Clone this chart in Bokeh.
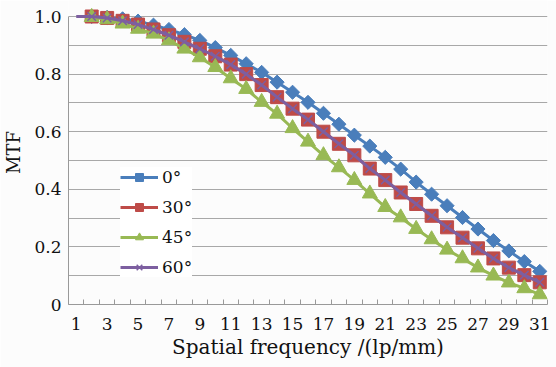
from bokeh.plotting import figure
from bokeh.embed import file_html
from bokeh.resources import INLINE
from bokeh.models import FixedTicker, Range1d

# data
cats = list(range(2, 32))
cats60 = list(range(1, 32))
mtf_0 = [1.0, 0.997, 0.992, 0.984, 0.970, 0.955, 0.937, 0.917, 0.892, 0.865,
         0.836, 0.806, 0.772, 0.737, 0.702, 0.664, 0.626, 0.588, 0.550, 0.511,
         0.470, 0.425, 0.383, 0.343, 0.302, 0.262, 0.222, 0.186, 0.149, 0.115]
mtf_30 = [1.0, 0.995, 0.985, 0.972, 0.955, 0.935, 0.912, 0.888, 0.862, 0.833,
          0.800, 0.762, 0.720, 0.680, 0.642, 0.600, 0.558, 0.518, 0.472, 0.432,
          0.389, 0.349, 0.308, 0.268, 0.232, 0.195, 0.160, 0.128, 0.102, 0.077]
mtf_45 = [0.998, 0.990, 0.975, 0.957, 0.940, 0.917, 0.888, 0.858, 0.824, 0.785,
          0.748, 0.703, 0.662, 0.612, 0.565, 0.518, 0.476, 0.432, 0.385, 0.338,
          0.302, 0.262, 0.226, 0.190, 0.160, 0.128, 0.100, 0.076, 0.056, 0.035]
mtf_60 = [1.0, 1.0, 0.995, 0.985, 0.972, 0.955, 0.935, 0.912, 0.888, 0.862, 0.833,
          0.800, 0.762, 0.720, 0.680, 0.642, 0.600, 0.558, 0.518, 0.472, 0.432,
          0.389, 0.349, 0.308, 0.268, 0.232, 0.195, 0.160, 0.128, 0.102, 0.077]
x_tick_labels = [str(i) for i in range(1, 32, 2)]
y_ticks = [0, 0.2, 0.4, 0.6, 0.8, 1.0]
y_tick_labels = ["0", "0.2", "0.4", "0.6", "0.8", "1.0"]

FONT = "DejaVu Serif"
TXT = "#111111"

p = figure(width=556, height=367, output_backend="svg", toolbar_location=None,
           x_range=Range1d(0.5, 31.5), y_range=Range1d(0, 1.0556),
           min_border_left=67, min_border_right=9, min_border_top=0,
           min_border_bottom=63)
p.background_fill_color = "#fcfcfc"
p.border_fill_color = "#fcfcfc"
p.outline_line_color = None

# grid
p.xgrid.grid_line_color = None
p.ygrid.ticker = FixedTicker(ticks=[i / 10 for i in range(0, 11)])
p.ygrid.grid_line_color = "#a8a8a8"
p.ygrid.grid_line_width = 1

# x axis
xa = p.xaxis[0]
xa.ticker = FixedTicker(ticks=list(range(1, 32, 2)),
                        minor_ticks=[i + 0.5 for i in range(0, 32)])
xa.major_label_overrides = {i: s for i, s in zip(range(1, 32, 2), x_tick_labels)}
xa.major_tick_line_color = None
xa.major_tick_in = 0
xa.major_tick_out = 0
xa.minor_tick_in = 5
xa.minor_tick_out = 0
xa.minor_tick_line_color = "#999999"
xa.axis_line_color = "#999999"
xa.major_label_text_font = FONT
xa.major_label_text_font_size = "17px"
xa.major_label_text_color = TXT
xa.major_label_standoff = 13
xa.axis_label = "Spatial frequency /(lp/mm)"
xa.axis_label_text_font = FONT
xa.axis_label_text_font_size = "20px"
xa.axis_label_text_font_style = "normal"
xa.axis_label_text_color = TXT
xa.axis_label_standoff = 2

# y axis
ya = p.yaxis[0]
ya.ticker = FixedTicker(ticks=y_ticks)
ya.major_label_overrides = {t: s for t, s in zip(y_ticks, y_tick_labels)}
ya.bounds = (0, 1.0)
ya.major_tick_line_color = None
ya.major_tick_in = 0
ya.major_tick_out = 0
ya.minor_tick_line_color = None
ya.minor_tick_in = 0
ya.minor_tick_out = 0
ya.axis_line_color = "#999999"
ya.major_label_text_font = FONT
ya.major_label_text_font_size = "17px"
ya.major_label_text_color = TXT
ya.major_label_standoff = 7
ya.axis_label = "MTF"
ya.axis_label_text_font = FONT
ya.axis_label_text_font_size = "18px"
ya.axis_label_text_font_style = "normal"
ya.axis_label_text_color = TXT
ya.axis_label_standoff = 7

BLUE = "#4a7ebb"
RED = "#be4b48"
GREEN = "#98b954"
PURPLE = "#7d5fa0"

p.line(cats, mtf_0, line_color=BLUE, line_width=3, legend_label="0°")
p.scatter(cats, mtf_0, marker="square", angle=0.785398, size=10,
          fill_color=BLUE, line_color=BLUE, legend_label="0°")
p.line(cats, mtf_30, line_color=RED, line_width=3, legend_label="30°")
p.scatter(cats, mtf_30, marker="square", size=13, fill_color=RED,
          line_color=RED, legend_label="30°")
p.line(cats, mtf_45, line_color=GREEN, line_width=3, legend_label="45°")
p.scatter(cats, mtf_45, marker="triangle", size=15, fill_color=GREEN,
          line_color=GREEN, legend_label="45°")
p.line(cats60, mtf_60, line_color=PURPLE, line_width=3, legend_label="60°")
p.scatter(cats, mtf_60[1:], marker="x", size=12, line_color=PURPLE,
          line_width=1.5, legend_label="60°")

lg = p.legend[0]
lg.location = (52, 27)
lg.background_fill_color = "white"
lg.background_fill_alpha = 1
lg.border_line_color = None
lg.label_text_font = FONT
lg.label_text_font_size = "17px"
lg.label_text_color = TXT
lg.glyph_width = 38
lg.glyph_height = 20
lg.label_height = 20
lg.spacing = 10
lg.padding = 4
lg.margin = 0
lg.label_standoff = 4

open("out.html", "w").write(file_html(p, INLINE))
